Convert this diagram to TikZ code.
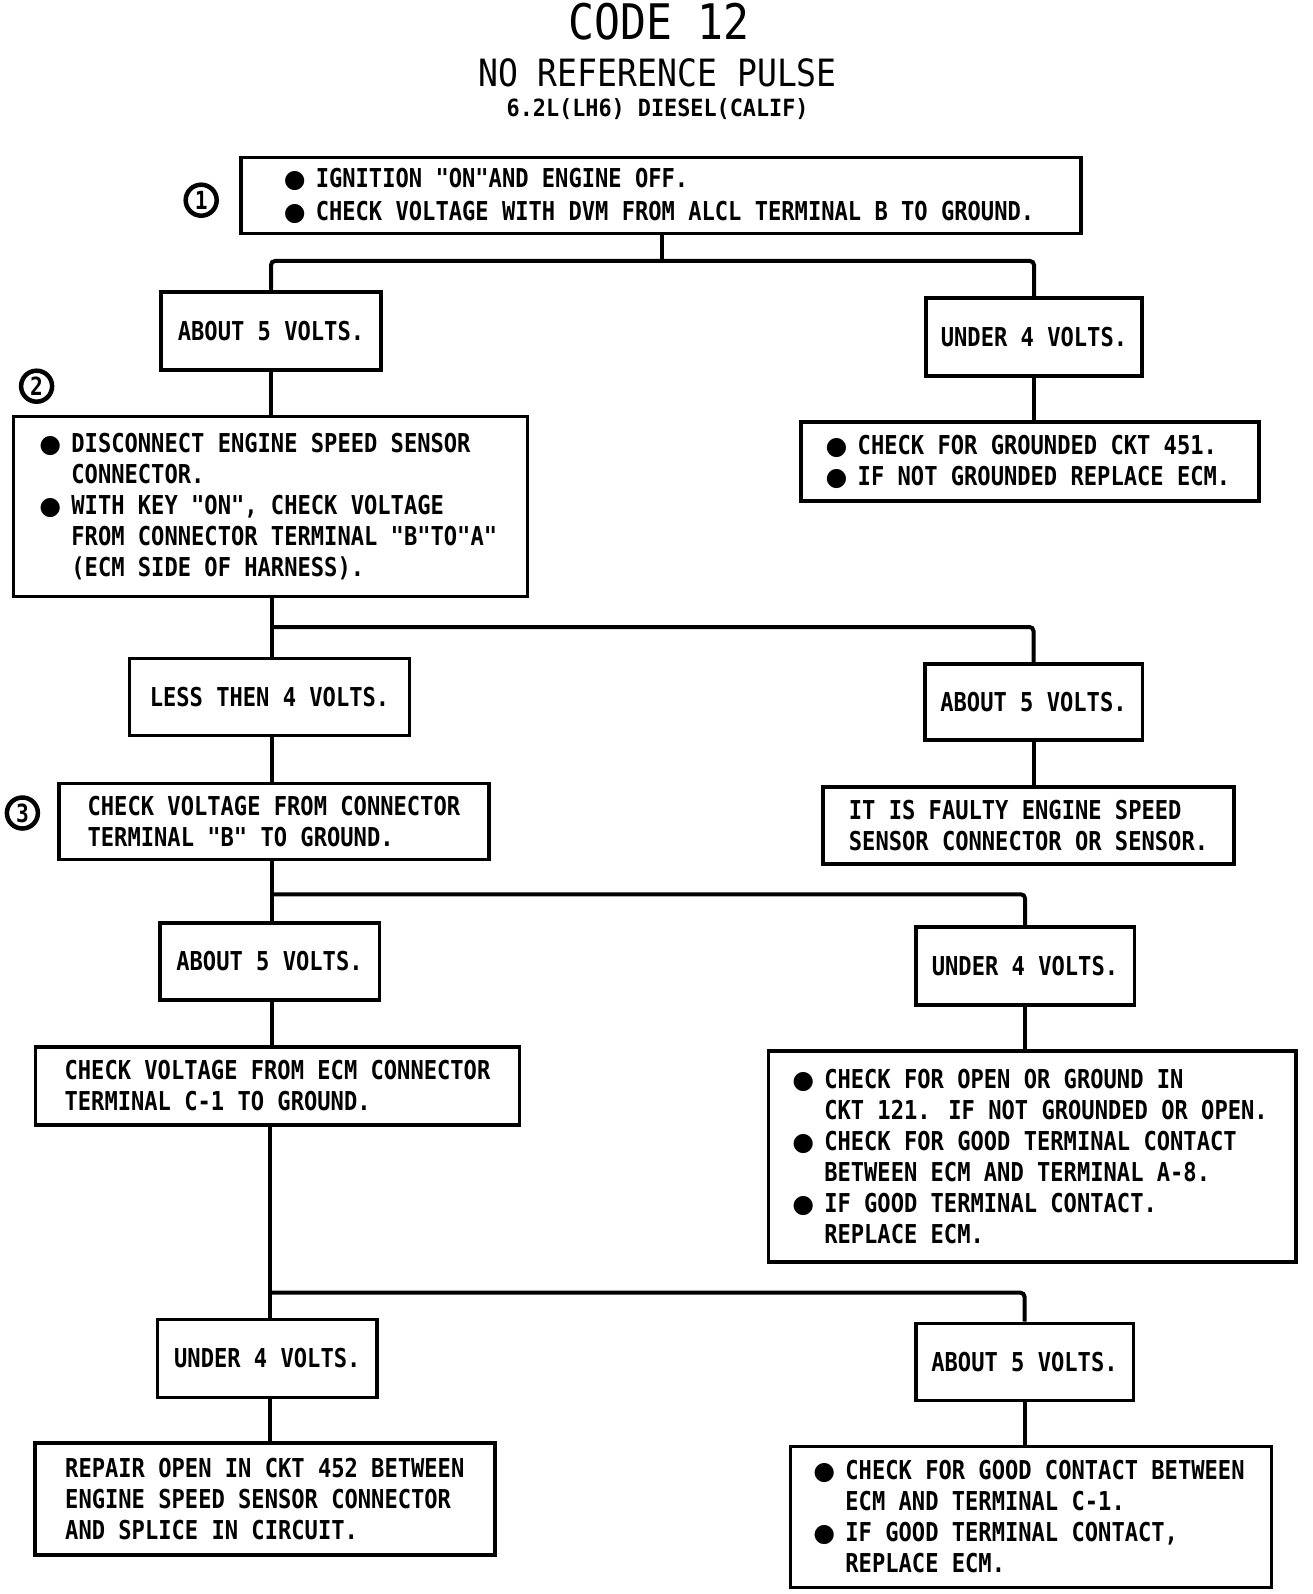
\documentclass[tikz,border=0pt]{standalone}
\usepackage{fontspec}
\newfontfamily\boxfont[FakeStretch=0.85]{DejaVu Sans Mono}
\newfontfamily\titlefont[FakeStretch=0.88]{DejaVu Sans Mono}
\newfontfamily\subfont[FakeStretch=0.92]{DejaVu Sans Mono}
\newfontfamily\bulfont{DejaVu Sans}
\newcommand\bul{\makebox[28pt][l]{\hspace*{-4pt}{\bulfont\fontsize{25}{25}\selectfont ●}}}
\newcommand\hang{\hspace*{28pt}}
\begin{document}
\begin{tikzpicture}[x=1pt,y=-1pt]
\tikzset{
  box/.style={draw, line width=3.5pt, align=left, inner sep=0pt,
    font=\boxfont\bfseries\fontsize{26}{31}\selectfont},
  conn/.style={line width=4pt, rounded corners=4pt},
  num/.style={circle, draw, line width=4.5pt, minimum size=31pt, inner sep=0pt,
    font=\boxfont\bfseries\fontsize{25}{25}\selectfont},
}
\useasboundingbox (0,0) rectangle (1312,1594);
\fill[white] (0,0) rectangle (1312,1594);

% titles
\node[font=\titlefont\fontsize{49}{49}\selectfont, inner sep=0pt] (t1) at (659,22) {CODE 12};
\node[font=\titlefont\fontsize{37.6}{38}\selectfont, inner sep=0pt] (t2) at (657.5,73) {NO REFERENCE PULSE};
\node[font=\subfont\bfseries\fontsize{23.7}{24}\selectfont, inner sep=0pt] (t3) at (657.6,109) {6.2L(LH6) DIESEL(CALIF)};

% step numbers
\node[num] (n1) at (201.2,200.2) {1};
\node[num] (n2) at (36.6,386.2) {2};
\node[num] (n3) at (22.4,813) {3};

% boxes
\node[box, minimum width=840pt, minimum height=76pt] (b1) at (661,195.7)
  {\bul IGNITION "ON"AND ENGINE OFF.\\[1.5pt]
   \bul CHECK VOLTAGE WITH DVM FROM ALCL TERMINAL B TO GROUND.};
\node[box, minimum width=220pt, minimum height=78pt] (ab1) at (271,330.8) {ABOUT 5 VOLTS.};
\node[box, minimum width=216pt, minimum height=78pt] (un1) at (1034,336.9) {UNDER 4 VOLTS.};
\node[box, minimum width=514pt, minimum height=180pt] (b2) at (270.3,506.6)
  {\bul DISCONNECT ENGINE SPEED SENSOR\\
   \hang CONNECTOR.\\
   \bul WITH KEY "ON", CHECK VOLTAGE\\
   \hang FROM CONNECTOR TERMINAL "B"TO"A"\\
   \hang (ECM SIDE OF HARNESS).};
\node[box, minimum width=458pt, minimum height=79pt] (gr) at (1030,461.4)
  {\bul CHECK FOR GROUNDED CKT 451.\\
   \bul IF NOT GROUNDED REPLACE ECM.};
\node[box, minimum width=280pt, minimum height=77pt] (lt4) at (269.5,697.2) {LESS THEN 4 VOLTS.};
\node[box, minimum width=217.5pt, minimum height=76pt] (ab2) at (1033.5,701.8) {ABOUT 5 VOLTS.};
\node[box, minimum width=430pt, minimum height=76pt] (b3) at (273.9,821.7)
  {CHECK VOLTAGE FROM CONNECTOR\\
   TERMINAL "B" TO GROUND.\hspace*{62pt}};
\node[box, minimum width=410.6pt, minimum height=77pt] (fa) at (1028.5,825.3)
  {IT IS FAULTY ENGINE SPEED\\
   SENSOR CONNECTOR OR SENSOR.};
\node[box, minimum width=219.5pt, minimum height=77pt] (ab3) at (269.5,961.4) {ABOUT 5 VOLTS.};
\node[box, minimum width=218.5pt, minimum height=78pt] (un3) at (1025,966) {UNDER 4 VOLTS.};
\node[box, minimum width=483.7pt, minimum height=78pt] (ecm) at (277.5,1085.9)
  {CHECK VOLTAGE FROM ECM CONNECTOR\\
   TERMINAL C-1 TO GROUND.\hspace*{115pt}};
\node[box, minimum width=527.5pt, minimum height=211pt] (big) at (1032,1156.5)
  {\bul CHECK FOR OPEN OR GROUND IN\\
   \hang CKT 121. IF NOT GROUNDED OR OPEN.\\
   \bul CHECK FOR GOOD TERMINAL CONTACT\\
   \hang BETWEEN ECM AND TERMINAL A-8.\\
   \bul IF GOOD TERMINAL CONTACT.\\
   \hang REPLACE ECM.};
\node[box, minimum width=219.5pt, minimum height=78pt] (un4) at (267.3,1358.3) {UNDER 4 VOLTS.};
\node[box, minimum width=217.5pt, minimum height=77pt] (ab4) at (1024.5,1361.9) {ABOUT 5 VOLTS.};
\node[box, minimum width=460pt, minimum height=112pt] (rep) at (264.8,1499)
  {REPAIR OPEN IN CKT 452 BETWEEN\\
   ENGINE SPEED SENSOR CONNECTOR\\
   AND SPLICE IN CIRCUIT.};
\node[box, minimum width=480.7pt, minimum height=141pt] (bot) at (1031,1516.8)
  {\bul CHECK FOR GOOD CONTACT BETWEEN\\
   \hang ECM AND TERMINAL C-1.\\
   \bul IF GOOD TERMINAL CONTACT,\\
   \hang REPLACE ECM.};

% connectors
\coordinate (j1) at (662,261);
\draw[conn] (b1.south -| j1) -- (j1);
\draw[conn] (j1) -| (ab1.north);
\draw[conn] (j1) -| (un1.north);
\draw[conn] (ab1.south) -- (ab1.south |- b2.north);
\draw[conn] (un1.south) -- (un1.south |- gr.north);

\coordinate (j2) at (272,627);
\draw[conn] (b2.south -| j2) -- (lt4.north -| j2);
\draw[conn] (j2) -| (ab2.north);
\draw[conn] (lt4.south -| j2) -- (b3.north -| j2);
\draw[conn] (ab2.south) -- (ab2.south |- fa.north);

\coordinate (j3) at (272,894.3);
\draw[conn] (b3.south -| j3) -- (ab3.north -| j3);
\draw[conn] (j3) -| (un3.north);
\draw[conn] (ab3.south -| j3) -- (ecm.north -| j3);
\draw[conn] (un3.south) -- (un3.south |- big.north);

\coordinate (j4) at (270.3,1292.7);
\draw[conn] (ecm.south -| j4) -- (un4.north -| j4);
\draw[conn] (j4) -| (ab4.north);
\draw[conn] (un4.south -| j4) -- (rep.north -| j4);
\draw[conn] (ab4.south) -- (ab4.south |- bot.north);
\end{tikzpicture}
\end{document}
